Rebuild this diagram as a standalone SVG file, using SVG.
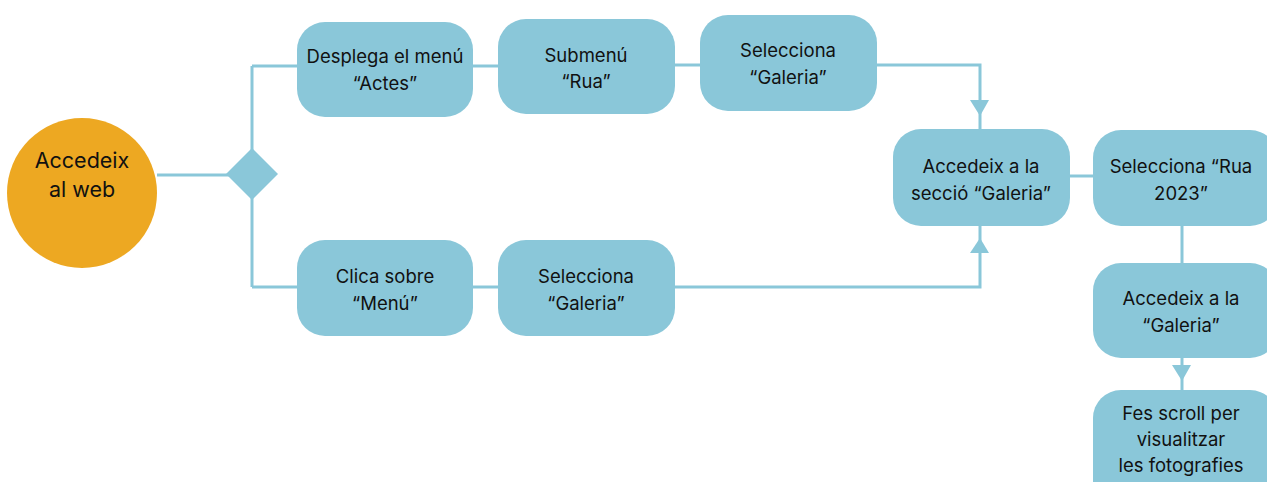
<svg xmlns="http://www.w3.org/2000/svg" width="1267" height="482" viewBox="0 0 1267 482">
  <style>
    .box { fill: #8AC7D9; }
    .start { fill: #EDA822; }
    .lbl { font-family: Inter, "Open Sans", "Liberation Sans", sans-serif; font-size: 18.5px; fill: #111; text-anchor: middle; }
    .big { font-size: 21.5px; }
    .wire { fill: none; stroke: #8AC7D9; stroke-width: 3; }
    .tri { fill: #8AC7D9; }
  </style>

  <g id="connectors">
    <path class="wire" d="M157 175 H252"/>
    <path class="wire" d="M252 66 V287"/>
    <path class="wire" d="M252 66 H297"/>
    <path class="wire" d="M473 66 H498"/>
    <path class="wire" d="M675 65 H700"/>
    <path class="wire" d="M877 65 H980 V130"/>
    <polygon class="tri" points="970,100 989,100 980,116"/>
    <path class="wire" d="M252 287 H297"/>
    <path class="wire" d="M473 287 H498"/>
    <path class="wire" d="M675 287 H980 V226"/>
    <polygon class="tri" points="970,253 989,253 980,238"/>
    <path class="wire" d="M1070 176 H1093"/>
    <path class="wire" d="M1182 226 V263"/>
    <path class="wire" d="M1182 358 V390"/>
    <polygon class="tri" points="1172,365 1191,365 1182,381"/>
    <polygon class="tri" points="252,148 278,174 252,200 226,174"/>
  </g>

  <g id="start">
    <circle class="start" cx="82" cy="193" r="75"/>
    <text class="lbl big" x="82" y="168">Accedeix</text>
    <text class="lbl big" x="82" y="197">al web</text>
  </g>

  <g id="desplega">
    <rect class="box" x="297" y="22" width="176" height="95" rx="28"/>
    <text class="lbl" x="385" y="63">Desplega el menú</text>
    <text class="lbl" x="385" y="90">“Actes”</text>
  </g>

  <g id="submenu">
    <rect class="box" x="498" y="19" width="177" height="95" rx="28"/>
    <text class="lbl" x="586" y="62">Submenú</text>
    <text class="lbl" x="586" y="88">“Rua”</text>
  </g>

  <g id="selecciona-top">
    <rect class="box" x="700" y="15" width="177" height="96" rx="28"/>
    <text class="lbl" x="788" y="57">Selecciona</text>
    <text class="lbl" x="788" y="84">“Galeria”</text>
  </g>

  <g id="clica">
    <rect class="box" x="297" y="240" width="176" height="96" rx="28"/>
    <text class="lbl" x="385" y="283">Clica sobre</text>
    <text class="lbl" x="385" y="310">“Menú”</text>
  </g>

  <g id="selecciona-bottom">
    <rect class="box" x="498" y="240" width="177" height="96" rx="28"/>
    <text class="lbl" x="586" y="283">Selecciona</text>
    <text class="lbl" x="586" y="310">“Galeria”</text>
  </g>

  <g id="seccio">
    <rect class="box" x="893" y="129" width="177" height="97" rx="28"/>
    <text class="lbl" x="981" y="173">Accedeix a la</text>
    <text class="lbl" x="981" y="200">secció “Galeria”</text>
  </g>

  <g id="rua2023">
    <rect class="box" x="1093" y="130" width="185" height="96" rx="28"/>
    <text class="lbl" x="1181" y="173">Selecciona “Rua</text>
    <text class="lbl" x="1181" y="200">2023”</text>
  </g>

  <g id="galeria">
    <rect class="box" x="1093" y="263" width="185" height="95" rx="28"/>
    <text class="lbl" x="1181" y="305">Accedeix a la</text>
    <text class="lbl" x="1181" y="332">“Galeria”</text>
  </g>

  <g id="scroll">
    <rect class="box" x="1093" y="390" width="185" height="120" rx="28"/>
    <text class="lbl" x="1181" y="420">Fes scroll per</text>
    <text class="lbl" x="1181" y="446">visualitzar</text>
    <text class="lbl" x="1181" y="472">les fotografies</text>
  </g>
</svg>
